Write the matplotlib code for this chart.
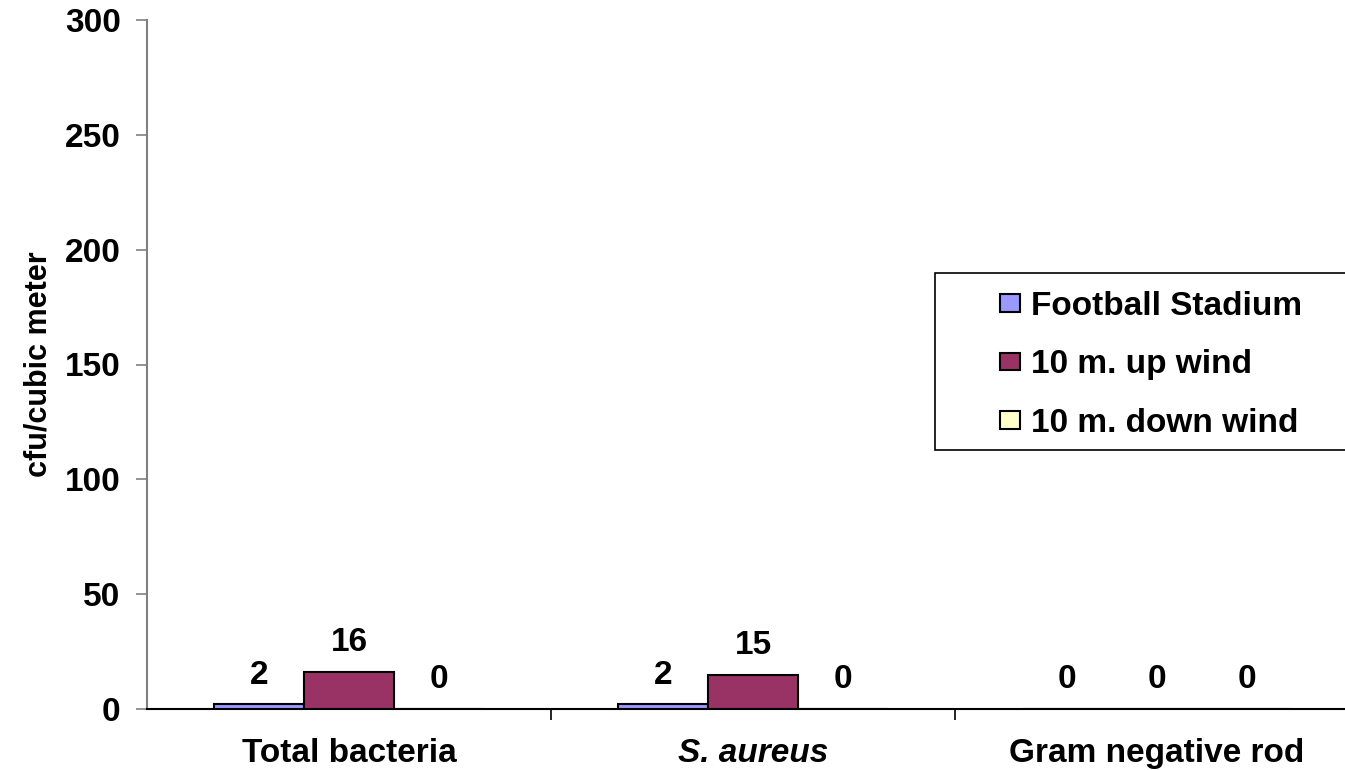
import matplotlib
matplotlib.use("Agg")
import matplotlib.pyplot as plt
from matplotlib.patches import Patch, Rectangle
import numpy as np

categories = ["Total bacteria", "S. aureus", "Gram negative rod"]
series_names = ["Football Stadium", "10 m. up wind", "10 m. down wind"]
stadium = [2, 2, 0]
up_wind = [16, 15, 0]
down_wind = [0, 0, 0]
y_ticks = [0, 50, 100, 150, 200, 250, 300]

colors = ["#9999FF", "#993366", "#FFFFCC"]
plt.rcParams["font.family"] = ["Liberation Sans", "DejaVu Sans"]
plt.rcParams["font.weight"] = "bold"

W, H = 1345, 770
fig = plt.figure(figsize=(W / 100, H / 100), dpi=100)
ax = fig.add_axes([147 / W, 1 - 709 / H, 1212 / W, 689 / H])

x = np.arange(len(categories))
w = 0.223
fs = 24
for i, (vals, name, c) in enumerate(zip([stadium, up_wind, down_wind], series_names, colors)):
    pos = x + (i - 1) * w
    ax.bar(pos, vals, width=w, color=c, edgecolor="black", linewidth=1.5, label=name, zorder=3)
    for p, v in zip(pos, vals):
        ax.annotate(str(v), (p, v), xytext=(0, 15), textcoords="offset points",
                    ha="center", va="baseline", fontsize=fs, fontweight="bold")

ax.set_xlim(-0.5, 2.5)
ax.set_ylim(0, 300)
ax.set_yticks(y_ticks)
ax.set_yticklabels([str(t) for t in y_ticks], fontsize=fs, fontweight="bold")
ax.tick_params(axis="y", direction="out", length=8, width=1.2, color="#808080", pad=11)

ax.set_xticks([0.5, 1.5])
ax.set_xticklabels([])
ax.tick_params(axis="x", direction="out", length=8, width=1.2, color="black")
for xi, cat in zip(x, categories):
    style = "italic" if cat.startswith("S.") else "normal"
    ax.annotate(cat, (xi, 0), xycoords=("data", "axes fraction"),
                xytext=(0, -38.5), textcoords="offset points",
                ha="center", va="baseline", fontsize=fs, fontweight="bold", style=style)

for side in ["top", "right"]:
    ax.spines[side].set_visible(False)
ax.spines["left"].set_color("#808080")
ax.spines["left"].set_linewidth(1.5)
ax.spines["bottom"].set_color("black")
ax.spines["bottom"].set_linewidth(1.5)

ax.set_ylabel("cfu/cubic meter", fontsize=22, fontweight="bold", labelpad=8)

# legend frame, running off the right edge of the figure
fig.patches.append(Rectangle((935 / W, 1 - 450 / H), 440 / W, 177 / H,
                             transform=fig.transFigure, facecolor="white",
                             edgecolor="black", linewidth=1.2, zorder=5))
handles = [Patch(facecolor=c, edgecolor="black", linewidth=1.5) for c in colors]
leg = fig.legend(handles, series_names, loc="upper left",
                 bbox_to_anchor=(1000 / W, 1 - 291 / H),
                 prop={"weight": "bold", "size": fs},
                 frameon=False, borderpad=0, labelspacing=0.82,
                 handlelength=0.6, handleheight=0.45, handletextpad=0.32, borderaxespad=0)
leg.set_zorder(6)

fig.savefig("out.png", dpi=100)
